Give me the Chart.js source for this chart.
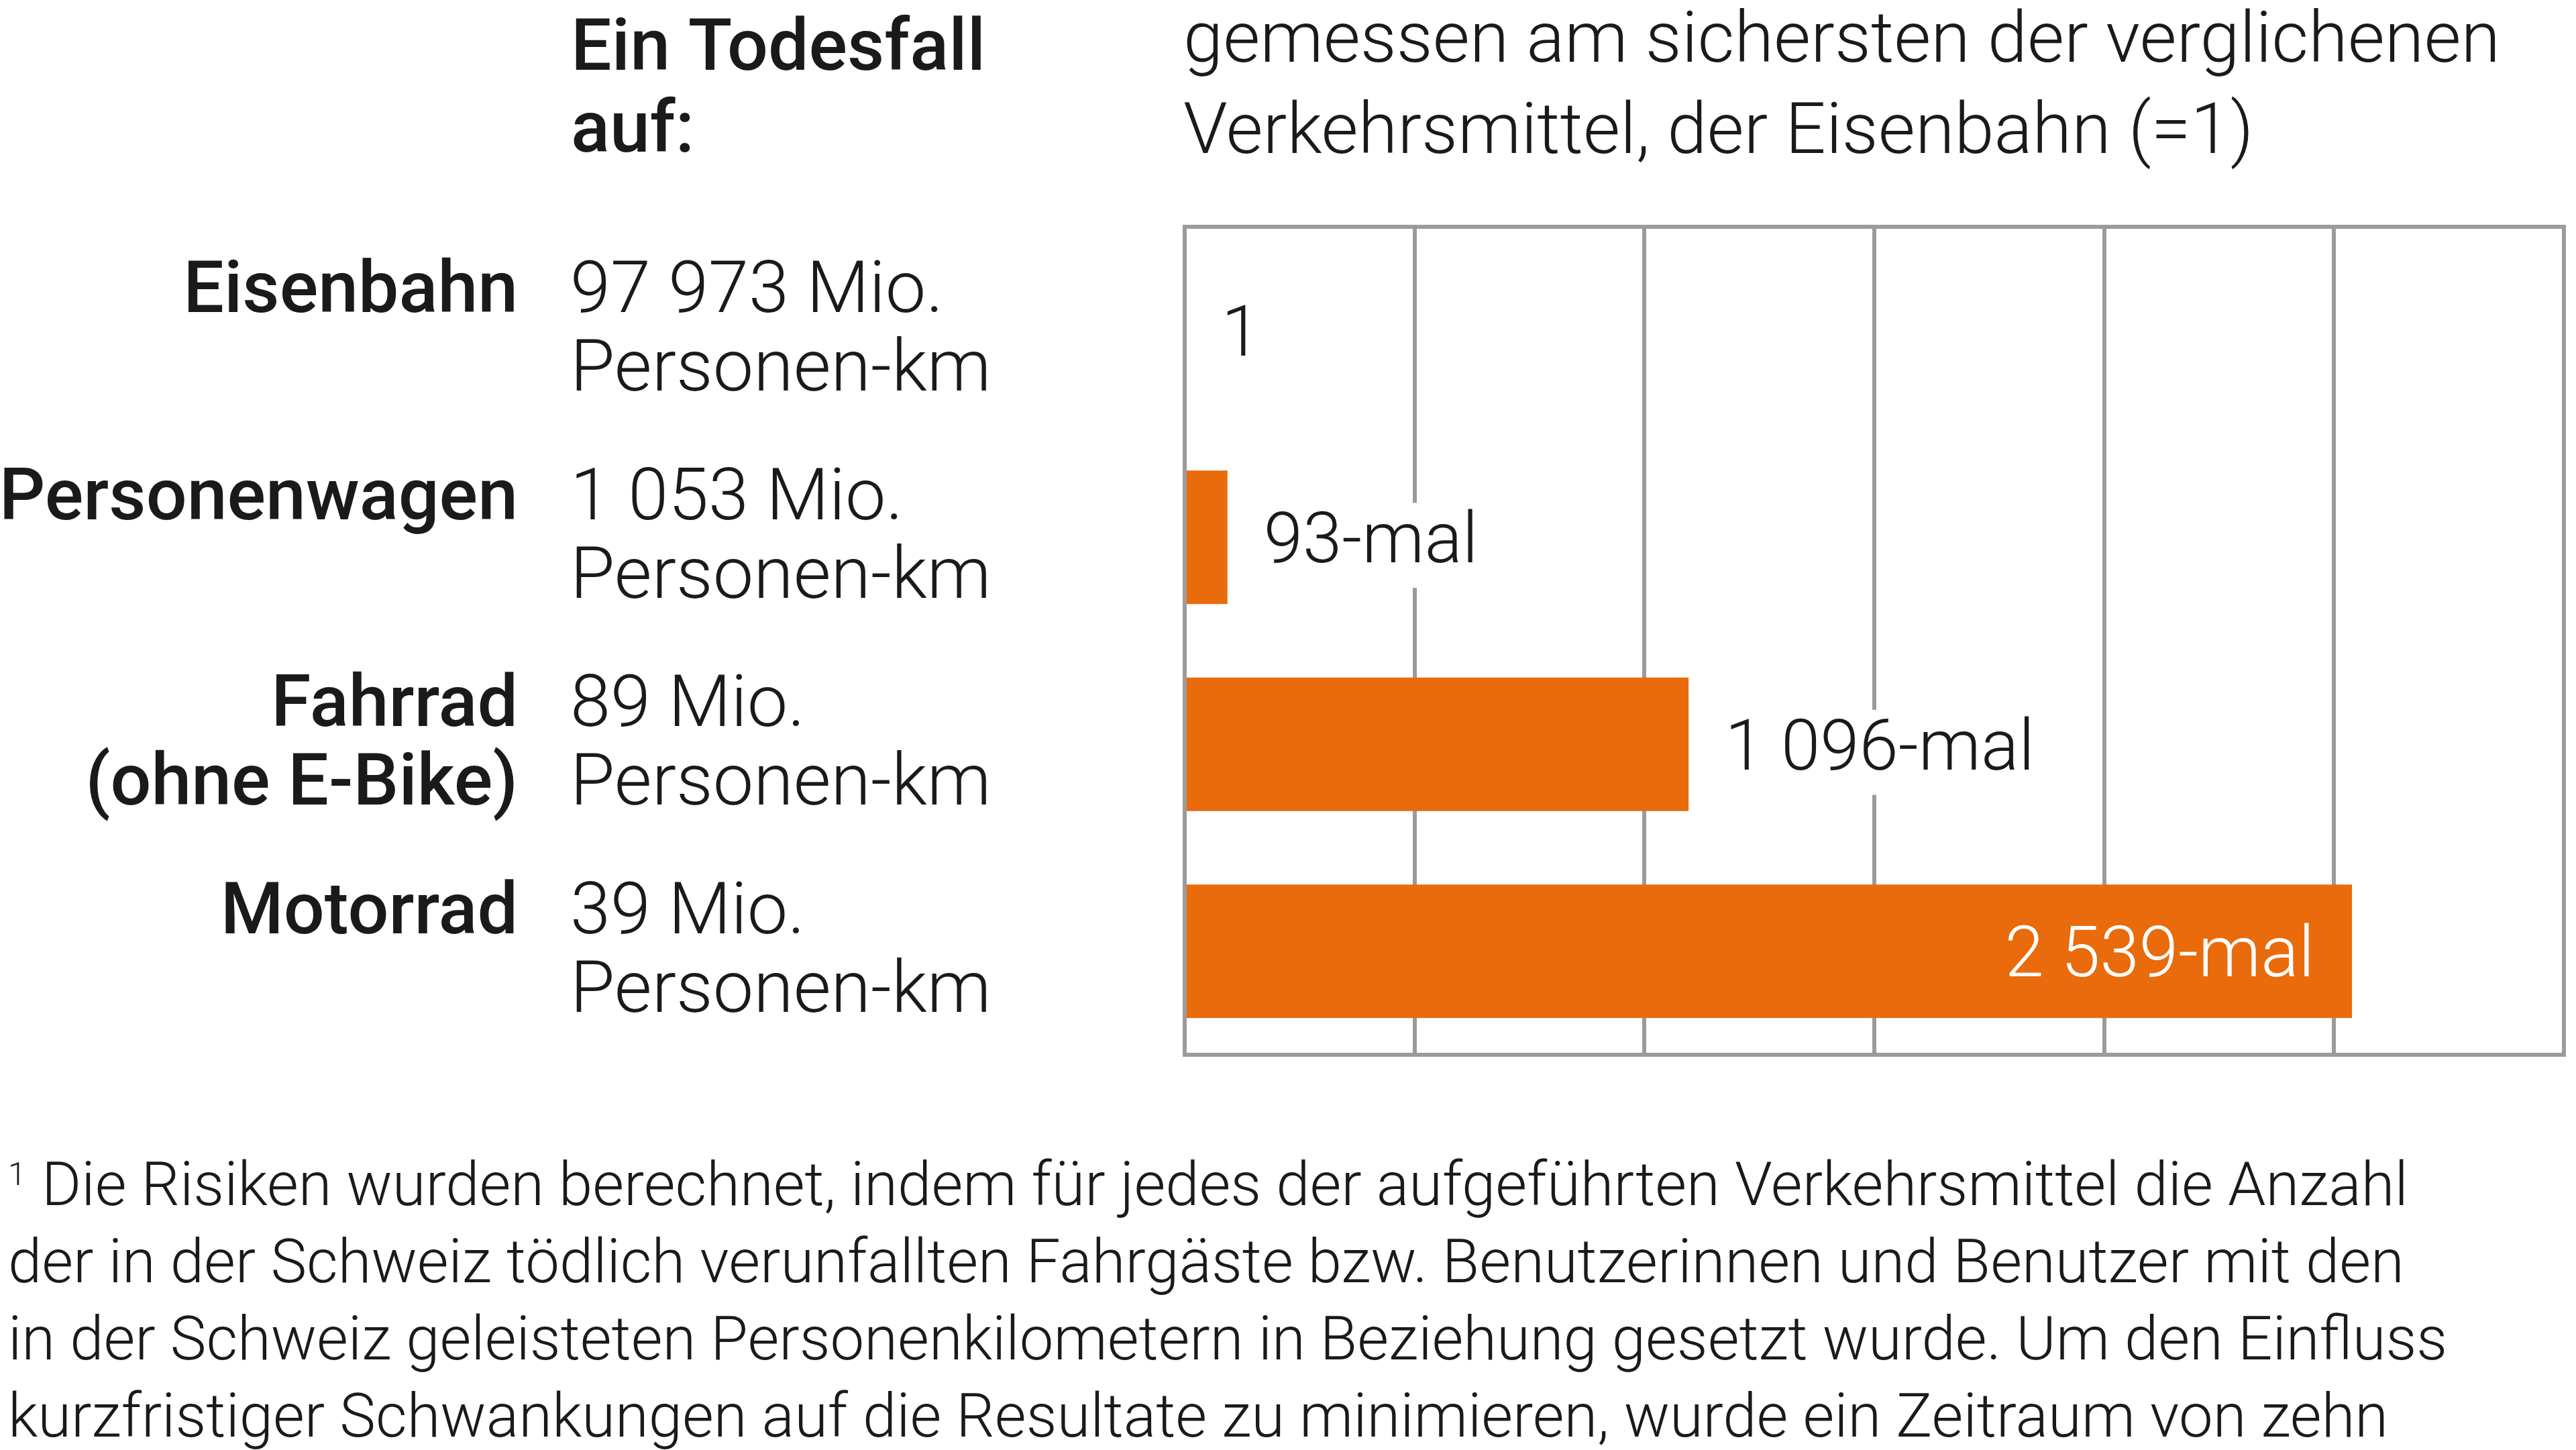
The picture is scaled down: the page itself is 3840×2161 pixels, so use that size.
<!DOCTYPE html>
<html>
<head>
<meta charset="utf-8">
<script src="https://cdn.jsdelivr.net/npm/chart.js@4"></script>
<style>
html,body{margin:0;padding:0;background:#fff;}
canvas{display:block;}
</style>
</head>
<body>
<canvas id="c" width="3840" height="2161" style="width:3840px;height:2161px"></canvas>
<script>
// ---- data ----
const categories = ['Eisenbahn', 'Personenwagen', 'Fahrrad (ohne E-Bike)', 'Motorrad'];
const categoryLines = [['Eisenbahn'], ['Personenwagen'], ['Fahrrad', '(ohne E-Bike)'], ['Motorrad']];
const distanceLines = [['97 973 Mio.', 'Personen-km'], ['1 053 Mio.', 'Personen-km'], ['89 Mio.', 'Personen-km'], ['39 Mio.', 'Personen-km']];
const values = [1, 93, 1096, 2539];
const valueLabels = ['1', '93-mal', '1 096-mal', '2 539-mal'];
const xMin = 0, xMax = 3000, xStep = 500;
const titleLeft = ['Ein Todesfall', 'auf:'];
const titleRight = ['gemessen am sichersten der verglichenen', 'Verkehrsmittel, der Eisenbahn (=1)'];
const footnoteMark = '1';
const footnoteLines = [
  'Die Risiken wurden berechnet, indem für jedes der aufgeführten Verkehrsmittel die Anzahl',
  'der in der Schweiz tödlich verunfallten Fahrgäste bzw. Benutzerinnen und Benutzer mit den',
  'in der Schweiz geleisteten Personenkilometern in Beziehung gesetzt wurde. Um den Einfluss',
  'kurzfristiger Schwankungen auf die Resultate zu minimieren, wurde ein Zeitraum von zehn'
];

// ---- style ----
const ORANGE = '#E96B0C';
const GRID = '#9b9b9b';
const TEXT = '#1a1a1a';
const FONT = 'Roboto, "Noto Sans", sans-serif';
const FS = 105;
const BOLD = `500 107.5px ${FONT}`;
const LIGHT_ROW = `300 108px ${FONT}`;

const textPlugin = {
  id: 'texts',
  afterDatasetsDraw(chart) {
    const ctx = chart.ctx;
    const area = chart.chartArea;
    const xs = chart.scales.x, ys = chart.scales.y;
    // frame
    ctx.save();
    ctx.strokeStyle = GRID;
    ctx.lineWidth = 6;
    ctx.strokeRect(area.left, area.top, area.right - area.left, area.bottom - area.top);
    ctx.restore();
    // value labels
    ctx.save();
    ctx.font = `300 ${FS}px ${FONT}`;
    ctx.textBaseline = 'alphabetic';
    const capH = FS * 0.711;
    values.forEach((v, i) => {
      const xEnd = xs.getPixelForValue(v);
      const yc = ys.getPixelForValue(i);
      const base = yc + capH / 2;
      const lbl = valueLabels[i];
      const w = ctx.measureText(lbl).width;
      const gap = 54;
      if (xEnd + gap + w > area.right - 20) {
        ctx.fillStyle = '#ffffff';
        ctx.textAlign = 'right';
        ctx.fillText(lbl, xEnd - 56, base);
      } else {
        const x0 = xEnd + gap;
        ctx.fillStyle = '#ffffff';
        ctx.fillRect(x0 - 6, base - capH - 14, w + 12, capH + 14 + 38);
        ctx.fillStyle = TEXT;
        ctx.textAlign = 'left';
        ctx.fillText(lbl, x0, base);
      }
    });
    ctx.restore();
  },
  afterDraw(chart) {
    const ctx = chart.ctx;
    const area = chart.chartArea;
    const ys = chart.scales.y;
    ctx.save();
    ctx.fillStyle = TEXT;
    ctx.textBaseline = 'alphabetic';
    // titles
    ctx.font = BOLD;
    ctx.textAlign = 'left';
    titleLeft.forEach((t, k) => ctx.fillText(t, 851, 104 + k * 122));
    ctx.font = `300 106.5px ${FONT}`;
    titleRight.forEach((t, k) => ctx.fillText(t, area.left - 2, 92 + k * 136));
    // row texts
    categories.forEach((c, i) => {
      const yc = ys.getPixelForValue(i);
      const b0 = yc - 27;
      ctx.font = BOLD;
      ctx.textAlign = 'right';
      categoryLines[i].forEach((t, k) => ctx.fillText(t, 772, b0 + k * 117));
      ctx.font = LIGHT_ROW;
      ctx.textAlign = 'left';
      distanceLines[i].forEach((t, k) => ctx.fillText(t, 850, b0 + k * 117));
    });
    // footnote
    ctx.textAlign = 'left';
    ctx.font = `300 48px ${FONT}`;
    ctx.fillText(footnoteMark, 12, 1766);
    ctx.font = `300 90.5px ${FONT}`;
    footnoteLines.forEach((t, k) => ctx.fillText(t, k === 0 ? 62 : 12, 1796 + k * 115));
    ctx.restore();
  }
};

new Chart(document.getElementById('c'), {
  type: 'bar',
  data: {
    labels: categories,
    datasets: [{
      data: values,
      backgroundColor: ORANGE,
      borderWidth: 0,
      barPercentage: 0.645,
      categoryPercentage: 1
    }]
  },
  options: {
    indexAxis: 'y',
    responsive: false,
    animation: false,
    devicePixelRatio: 1,
    layout: { padding: { left: 1766, right: 18, top: 338, bottom: 589 } },
    plugins: { legend: { display: false }, tooltip: { enabled: false } },
    scales: {
      x: {
        min: xMin, max: xMax,
        ticks: { display: false, stepSize: xStep },
        grid: { color: GRID, lineWidth: 6, drawTicks: false },
        border: { display: false }
      },
      y: {
        ticks: { display: false },
        grid: { display: false, drawTicks: false },
        border: { display: false }
      }
    }
  },
  plugins: [textPlugin]
});
</script>
</body>
</html>
